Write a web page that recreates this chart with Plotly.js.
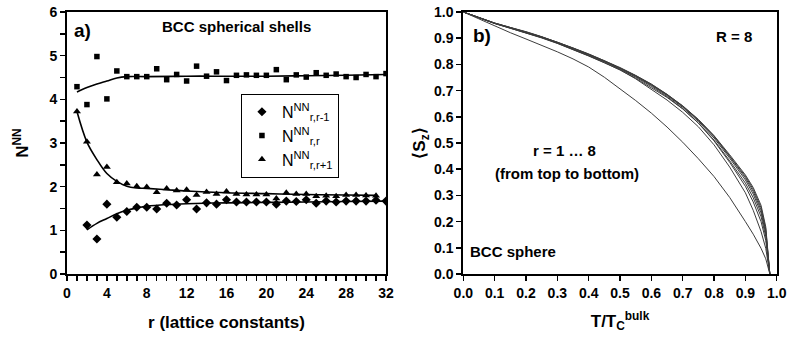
<!DOCTYPE html>
<html>
<head>
<meta charset="utf-8">
<script src="https://cdn.plot.ly/plotly-3.0.1.min.js"></script>
<style>html,body{margin:0;padding:0;background:#fff;} #chart{width:790px;height:345px;}</style>
</head>
<body>
<div id="chart"></div>
<script>
// ---------- Panel a) data ----------
var rPrev = [2,3,4,5,6,7,8,9,10,11,12,13,14,15,16,17,18,19,20,21,22,23,24,25,26,27,28,29,30,31,32];
var nPrev = [1.12,0.80,1.60,1.30,1.43,1.53,1.53,1.49,1.62,1.58,1.70,1.49,1.63,1.60,1.70,1.65,1.65,1.65,1.65,1.60,1.67,1.66,1.70,1.62,1.67,1.65,1.67,1.67,1.67,1.69,1.67];
var rSame = [1,2,3,4,5,6,7,8,9,10,11,12,13,14,15,16,17,18,19,20,21,22,23,24,25,26,27,28,29,30,31,32];
var nSame = [4.29,3.88,4.98,4.01,4.65,4.52,4.52,4.52,4.70,4.45,4.57,4.42,4.76,4.53,4.63,4.43,4.55,4.56,4.55,4.55,4.68,4.45,4.56,4.51,4.61,4.55,4.58,4.52,4.50,4.57,4.52,4.59];
var rNext = [1,2,3,4,5,6,7,8,9,10,11,12,13,14,15,16,17,18,19,20,21,22,23,24,25,26,27,28,29,30,31];
var nNext = [3.72,3.03,2.28,2.45,2.10,2.07,2.01,1.99,1.87,1.96,1.91,1.93,1.81,1.88,1.83,1.89,1.83,1.82,1.82,1.82,1.73,1.86,1.83,1.83,1.78,1.79,1.78,1.81,1.81,1.80,1.79];

var fitPrevR = [2,3,4,5,6,7,8,10,12,16,20,24,28,32];
var fitPrev  = [1.01,1.16,1.27,1.38,1.46,1.51,1.55,1.59,1.61,1.63,1.64,1.65,1.66,1.67];
var fitSameR = [1,2,3,4,5,6,8,12,16,20,24,28,32];
var fitSame  = [4.17,4.27,4.35,4.42,4.49,4.52,4.52,4.53,4.53,4.53,4.54,4.55,4.57];
var fitNextR = [1,2,3,4,5,6,7,8,10,12,16,20,24,28,31];
var fitNext  = [3.72,3.02,2.62,2.30,2.12,2.01,1.97,1.96,1.93,1.90,1.86,1.84,1.82,1.81,1.80];

var legPrev = 'N<sup>NN</sup><sub>r,r-1</sub>';
var legSame = 'N<sup>NN</sup><sub>r,r</sub>';
var legNext = 'N<sup>NN</sup><sub>r,r+1</sub>';

// ---------- Panel b) data ----------
var tRed = [0,0.05,0.1,0.15,0.2,0.25,0.3,0.35,0.4,0.45,0.5,0.55,0.6,0.65,0.7,0.75,0.8,0.85,0.9,0.925,0.95,0.965,0.978];
var sz1 = [1.000,0.978,0.958,0.941,0.925,0.906,0.886,0.863,0.840,0.815,0.788,0.758,0.725,0.686,0.642,0.590,0.528,0.455,0.378,0.330,0.262,0.180,0.000];
var sz2 = [1.000,0.978,0.958,0.941,0.924,0.905,0.885,0.863,0.839,0.814,0.787,0.757,0.724,0.685,0.641,0.589,0.527,0.452,0.373,0.323,0.253,0.172,0.000];
var sz3 = [1.000,0.978,0.957,0.940,0.924,0.905,0.884,0.862,0.838,0.813,0.786,0.756,0.722,0.684,0.639,0.587,0.524,0.448,0.367,0.315,0.244,0.164,0.000];
var sz4 = [1.000,0.977,0.957,0.940,0.923,0.904,0.883,0.861,0.837,0.812,0.785,0.754,0.720,0.681,0.636,0.583,0.519,0.442,0.359,0.305,0.233,0.155,0.000];
var sz5 = [1.000,0.977,0.957,0.939,0.922,0.903,0.882,0.859,0.835,0.810,0.782,0.751,0.716,0.677,0.631,0.577,0.511,0.432,0.347,0.291,0.219,0.143,0.000];
var sz6 = [1.000,0.977,0.956,0.938,0.921,0.902,0.881,0.858,0.833,0.807,0.779,0.747,0.711,0.674,0.630,0.576,0.508,0.426,0.335,0.275,0.200,0.128,0.000];
var sz7 = [1.000,0.977,0.956,0.938,0.920,0.901,0.880,0.857,0.832,0.806,0.779,0.745,0.706,0.664,0.617,0.562,0.493,0.408,0.310,0.243,0.162,0.098,0.000];
var sz8 = [1.000,0.973,0.945,0.921,0.897,0.873,0.848,0.821,0.790,0.751,0.708,0.662,0.614,0.561,0.503,0.440,0.372,0.292,0.200,0.152,0.098,0.058,0.000];
var szCurves = [sz1,sz2,sz3,sz4,sz5,sz6,sz7,sz8];
var shellNames = ['r = 1','r = 2','r = 3','r = 4','r = 5','r = 6','r = 7','r = 8'];

var FONT = 'Liberation Sans, Arial, sans-serif';

var traces = [];
// fit lines (panel a)
traces.push({x: fitPrevR, y: fitPrev, mode: 'lines', line: {color: '#000', width: 1.6, shape: 'spline'}, showlegend: false, xaxis: 'x', yaxis: 'y', hoverinfo: 'skip'});
traces.push({x: fitSameR, y: fitSame, mode: 'lines', line: {color: '#000', width: 1.6, shape: 'spline'}, showlegend: false, xaxis: 'x', yaxis: 'y', hoverinfo: 'skip'});
traces.push({x: fitNextR, y: fitNext, mode: 'lines', line: {color: '#000', width: 1.6, shape: 'spline'}, showlegend: false, xaxis: 'x', yaxis: 'y', hoverinfo: 'skip'});
// markers (panel a)
traces.push({x: rPrev, y: nPrev, name: legPrev, mode: 'markers', marker: {symbol: 'diamond', size: 7, color: '#000'}, xaxis: 'x', yaxis: 'y'});
traces.push({x: rSame, y: nSame, name: legSame, mode: 'markers', marker: {symbol: 'square', size: 5.5, color: '#000'}, xaxis: 'x', yaxis: 'y'});
traces.push({x: rNext, y: nNext, name: legNext, mode: 'markers', marker: {symbol: 'triangle-up', size: 7, color: '#000'}, xaxis: 'x', yaxis: 'y'});
// panel b curves
for (var i = szCurves.length - 1; i >= 0; i--) {
  traces.push({x: tRed, y: szCurves[i], name: shellNames[i], mode: 'lines', line: {color: '#3c3c3c', width: 1, shape: 'linear'}, showlegend: false, xaxis: 'x2', yaxis: 'y2'});
}

var axBase = {
  showline: true, mirror: true, linecolor: '#000', linewidth: 2,
  ticks: 'outside', ticklen: 5, tickwidth: 1.5, tickcolor: '#000',
  showgrid: false, zeroline: false,
  tickfont: {family: FONT, size: 14, color: '#000', weight: 'bold'}
};
function ax(o) { var r = {}; for (var k in axBase) r[k] = axBase[k]; for (var k2 in o) r[k2] = o[k2]; return r; }

function note(x, y, text, size) {
  return {xref: 'paper', yref: 'paper', x: x, y: y, xanchor: 'center', yanchor: 'middle', text: text, showarrow: false,
          font: {family: FONT, size: size, weight: 'bold', color: '#000'}};
}

var layout = {
  width: 790, height: 345,
  margin: {l: 0, r: 0, t: 0, b: 0},
  paper_bgcolor: '#fff', plot_bgcolor: '#fff',
  font: {family: FONT, color: '#000'},
  showlegend: true,
  legend: {
    x: 0.305, y: 0.728, xanchor: 'left', yanchor: 'top',
    bgcolor: '#fff', bordercolor: '#000', borderwidth: 1,
    font: {family: FONT, size: 16, color: '#000'},
    tracegroupgap: 0
  },
  xaxis: ax({domain: [0.0848, 0.4886], range: [0, 32], tickmode: 'linear', tick0: 0, dtick: 4,
    minor: {dtick: 1, ticks: 'outside', ticklen: 5, tickwidth: 1.5, tickcolor: '#000', showgrid: false},
    title: {text: 'r (lattice constants)', font: {family: FONT, size: 17, weight: 'bold'}, standoff: 16},
    anchor: 'y'}),
  yaxis: ax({domain: [0.2058, 0.9652], range: [0, 6], tickmode: 'linear', tick0: 0, dtick: 1,
    minor: {dtick: 0.5, ticks: 'outside', ticklen: 5, tickwidth: 1.5, tickcolor: '#000', showgrid: false},
    title: {text: 'N<sup>NN</sup>', font: {family: FONT, size: 17, weight: 'bold'}, standoff: 16},
    anchor: 'x'}),
  xaxis2: ax({domain: [0.5865, 0.9832], range: [0, 1], tickmode: 'linear', tick0: 0, dtick: 0.1, tickformat: '.1f',
    title: {text: 'T/T<sub>C</sub><sup>bulk</sup>', font: {family: FONT, size: 17, weight: 'bold'}, standoff: 15},
    anchor: 'y2'}),
  yaxis2: ax({domain: [0.2058, 0.9652], range: [0, 1], tickmode: 'linear', tick0: 0, dtick: 0.1, tickformat: '.1f',
    title: {text: '⟨S<sub>z</sub>⟩', font: {family: FONT, size: 17, weight: 'bold'}, standoff: 4},
    anchor: 'x2'}),
  annotations: [
    note(0.104, 0.913, 'a)', 19),
    note(0.299, 0.922, 'BCC spherical shells', 15),
    note(0.610, 0.896, 'b)', 19),
    note(0.929, 0.893, 'R = 8', 15),
    note(0.715, 0.565, 'r = 1 … 8', 15),
    note(0.718, 0.498, '(from top to bottom)', 15),
    note(0.649, 0.272, 'BCC sphere', 15)
  ]
};

Plotly.newPlot('chart', traces, layout, {displayModeBar: false, staticPlot: true});
</script>
</body>
</html>
